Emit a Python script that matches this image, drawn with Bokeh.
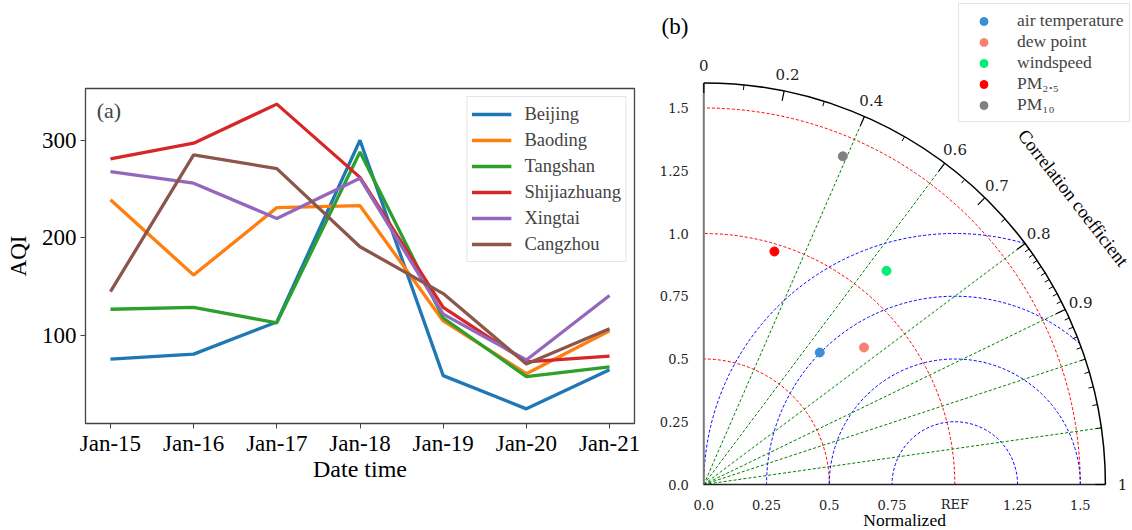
import math
from bokeh.plotting import figure
from bokeh.models import Range1d, FixedTicker, Label
from bokeh.layouts import row
from bokeh.embed import file_html
from bokeh.resources import INLINE
from bokeh.core.properties import value

# ---------------- data: panel (a) ----------------
dates = ["Jan-15", "Jan-16", "Jan-17", "Jan-18", "Jan-19", "Jan-20", "Jan-21"]
beijing = [76, 81, 114, 300, 59, 25, 65]
baoding = [239, 162, 231, 233, 115, 61, 105]
tangshan = [127, 129, 113, 288, 118, 58, 68]
shijiazhuang = [281, 297, 337, 262, 129, 73, 79]
xingtai = [268, 256, 220, 261, 122, 75, 141]
cangzhou = [145, 285, 271, 191, 143, 71, 107]
city_names = ["Beijing", "Baoding", "Tangshan", "Shijiazhuang", "Xingtai", "Cangzhou"]
city_colors = ["#1f77b4", "#ff7f0e", "#2ca02c", "#d62728", "#9467bd", "#8c564b"]
aqi_ticks = [100, 200, 300]

# ---------------- data: panel (b) Taylor diagram ----------------
variables = ["air temperature", "dew point", "windspeed", "PM\u2082.\u2085", "PM\u2081\u2080"]
var_colors = ["#3d8ed8", "#fa8072", "#00ee76", "#ff0000", "#808080"]
std_norm = [0.70, 0.84, 1.12, 0.97, 1.42]
corr_coef = [0.66, 0.76, 0.65, 0.29, 0.39]

std_ticks = [0, 0.25, 0.5, 0.75, 1.0, 1.25, 1.5]
std_labels_x = ["0.0", "0.25", "0.5", "0.75", "REF", "1.25", "1.5"]
std_labels_y = ["0.0", "0.25", "0.5", "0.75", "1.0", "1.25", "1.5"]
corr_major = [0, 0.2, 0.4, 0.6, 0.7, 0.8, 0.9, 1.0]
corr_labels = ["0", "0.2", "0.4", "0.6", "0.7", "0.8", "0.9", "1"]
corr_minor = [0.1, 0.3, 0.5, 0.65, 0.75,
              0.81, 0.82, 0.83, 0.84, 0.85, 0.86, 0.87, 0.88, 0.89,
              0.91, 0.92, 0.93, 0.94, 0.95, 0.96, 0.97, 0.98, 0.99]
corr_lines = [0.4, 0.6, 0.8, 0.9, 0.95, 0.99]
std_circles = [0.5, 1.0, 1.5]
rms_circles = [0.25, 0.5, 0.75, 1.0]
STD_MAX = 1.6
REF_STD = 1.0

SERIF = "Liberation Serif"
NUMFONT = "DejaVu Serif"

# ---------------- panel (a) ----------------
xi = list(range(len(dates)))
p1 = figure(width=640, height=530, x_range=Range1d(-0.3, 6.3), y_range=Range1d(10, 353),
            output_backend="svg", toolbar_location=None,
            min_border_left=85, min_border_right=6, min_border_top=88, min_border_bottom=107)
p1.frame_align = False
series = [beijing, baoding, tangshan, shijiazhuang, xingtai, cangzhou]
for name, col, vals in zip(city_names, city_colors, series):
    p1.line(xi, vals, line_color=col, line_width=3.3, legend_label=name)

p1.xgrid.visible = False
p1.ygrid.visible = False
p1.outline_line_color = "#444444"
p1.outline_line_width = 1.3
p1.xaxis.ticker = FixedTicker(ticks=xi)
p1.xaxis.major_label_overrides = {i: d for i, d in zip(xi, dates)}
p1.yaxis.ticker = FixedTicker(ticks=aqi_ticks)
for ax in (p1.xaxis[0], p1.yaxis[0]):
    ax.axis_line_color = None
    ax.major_tick_out = 5
    ax.major_tick_in = 0
    ax.major_tick_line_color = "#444444"
    ax.minor_tick_line_color = None
    ax.major_label_text_font = SERIF
    ax.major_label_text_font_size = "23px"
    ax.major_label_text_color = "black"
    ax.axis_label_text_font = SERIF
    ax.axis_label_text_font_style = "normal"
    ax.axis_label_text_color = "black"
p1.xaxis.major_label_standoff = 2
p1.yaxis.major_label_standoff = 4
p1.xaxis.axis_label = "Date time"
p1.xaxis.axis_label_text_font_size = "24px"
p1.xaxis.axis_label_standoff = -3
p1.yaxis.axis_label = "AQI"
p1.yaxis.axis_label_text_font_size = "23px"
p1.yaxis.axis_label_standoff = 8

lg = p1.legend[0]
lg.location = "top_right"
lg.margin = 8
lg.padding = 4
lg.spacing = 0
lg.glyph_width = 40
lg.glyph_height = 26
lg.label_height = 26
lg.label_standoff = 13
lg.label_text_font = SERIF
lg.label_text_font_size = "18.5px"
lg.border_line_color = "#cccccc"
lg.border_line_width = 1
lg.background_fill_alpha = 0.85

p1.add_layout(Label(x=-0.165, y=330, text="(a)", text_font=SERIF, text_font_size="22px",
                    text_baseline="middle", text_align="left"))

# ---------------- panel (b) ----------------
S = 251.0          # px per normalized unit
OX, OY = 63.3, 46  # origin offset (px) from the panel's left / bottom edge
W2, H2 = 492, 530
p2 = figure(width=W2, height=H2,
            x_range=Range1d(-OX / S, (W2 - OX) / S), y_range=Range1d(-OY / S, (H2 - OY) / S),
            output_backend="svg", toolbar_location=None,
            x_axis_location=None, y_axis_location=None, min_border=0)
p2.frame_align = False
p2.xgrid.visible = False
p2.ygrid.visible = False
p2.outline_line_color = None

# std-dev circles (red)
p2.arc(x=[0] * len(std_circles), y=[0] * len(std_circles), radius=std_circles,
       start_angle=0, end_angle=math.pi / 2, line_color="red", line_dash="3 2", line_width=1)
# RMS circles around REF (blue), limited to the diagram
rms_start = []
for r in rms_circles:
    if REF_STD + r <= STD_MAX:
        rms_start.append(0.0)
    else:
        rms_start.append(math.acos((STD_MAX ** 2 - REF_STD ** 2 - r ** 2) / (2 * REF_STD * r)))
p2.arc(x=[REF_STD] * len(rms_circles), y=[0] * len(rms_circles), radius=rms_circles,
       start_angle=rms_start, end_angle=math.pi, line_color="blue", line_dash="3 2", line_width=1)
# correlation lines (green)
cl_t = [math.acos(c) for c in corr_lines]
p2.segment(x0=[0] * len(cl_t), y0=[0] * len(cl_t),
           x1=[STD_MAX * math.cos(t) for t in cl_t], y1=[STD_MAX * math.sin(t) for t in cl_t],
           line_color="green", line_dash="3 2", line_width=1)

# axes of the diagram
p2.segment(x0=[0], y0=[0], x1=[0], y1=[STD_MAX], line_color="#7a7a7a", line_width=2)
p2.segment(x0=[0], y0=[0], x1=[STD_MAX], y1=[0], line_color="#222222", line_width=1.6)
p2.text(x=[-15 / S] * len(std_ticks), y=std_ticks, text=std_labels_y,
        text_align="right", text_baseline="middle", text_font=value(NUMFONT),
        text_font_size="13px", text_color="#222222")
p2.text(x=std_ticks, y=[-20 / S] * len(std_ticks), text=std_labels_x,
        text_align="center", text_baseline="middle", text_font=value(NUMFONT),
        text_font_size="13px", text_color="#222222")
p2.text(x=[STD_MAX / 2], y=[-35.5 / S], text=["Normalized"], text_align="center",
        text_baseline="middle", text_font=value(SERIF), text_font_size="17.5px", text_color="black")

# outer arc
p2.arc(x=[0], y=[0], radius=[STD_MAX], start_angle=0, end_angle=math.pi / 2,
       line_color="black", line_width=1.5)
# arc ticks
mt = [math.acos(c) for c in corr_major]
p2.segment(x0=[STD_MAX * math.cos(t) for t in mt], y0=[STD_MAX * math.sin(t) for t in mt],
           x1=[(STD_MAX - 0.04) * math.cos(t) for t in mt], y1=[(STD_MAX - 0.04) * math.sin(t) for t in mt],
           line_color="black", line_width=1.2)
nt = [math.acos(c) for c in corr_minor]
p2.segment(x0=[STD_MAX * math.cos(t) for t in nt], y0=[STD_MAX * math.sin(t) for t in nt],
           x1=[(STD_MAX - 0.02) * math.cos(t) for t in nt], y1=[(STD_MAX - 0.02) * math.sin(t) for t in nt],
           line_color="black", line_width=1)
# arc labels
LAB_R = 1.668
p2.text(x=[LAB_R * math.cos(t) for t in mt], y=[LAB_R * math.sin(t) for t in mt], text=corr_labels,
        text_align="center", text_baseline="middle", text_font=value(NUMFONT),
        text_font_size="15px", text_color="#222222")
# arc title
ct = math.radians(37.8)
p2.text(x=[1.862 * math.cos(ct)], y=[1.862 * math.sin(ct)], text=["Correlation coefficient"],
        angle=ct - math.pi / 2, text_align="center", text_baseline="middle",
        text_font=value(SERIF), text_font_size="18.5px", text_color="black")

# data points
for name, col, s, c in zip(variables, var_colors, std_norm, corr_coef):
    t = math.acos(c)
    p2.scatter([s * math.cos(t)], [s * math.sin(t)], size=9, fill_color=col, line_color=col,
               legend_label=name)

# panel tag
p2.text(x=[(661 - 640 - OX) / S], y=[(H2 - 26 - OY) / S], text=["(b)"], text_align="left",
        text_baseline="middle", text_font=value(SERIF), text_font_size="23px", text_color="black")

lg2 = p2.legend[0]
lg2.location = (318, 408)
lg2.margin = 0
lg2.padding = 6
lg2.spacing = 0
lg2.glyph_width = 37
lg2.glyph_height = 20
lg2.label_height = 20
lg2.label_standoff = 15
lg2.label_text_font = SERIF
lg2.label_text_font_size = "17.5px"
lg2.border_line_color = "#cccccc"
lg2.border_line_width = 1
lg2.background_fill_alpha = 0.85

layout = row(p1, p2)
open("out.html", "w").write(file_html(layout, INLINE))
